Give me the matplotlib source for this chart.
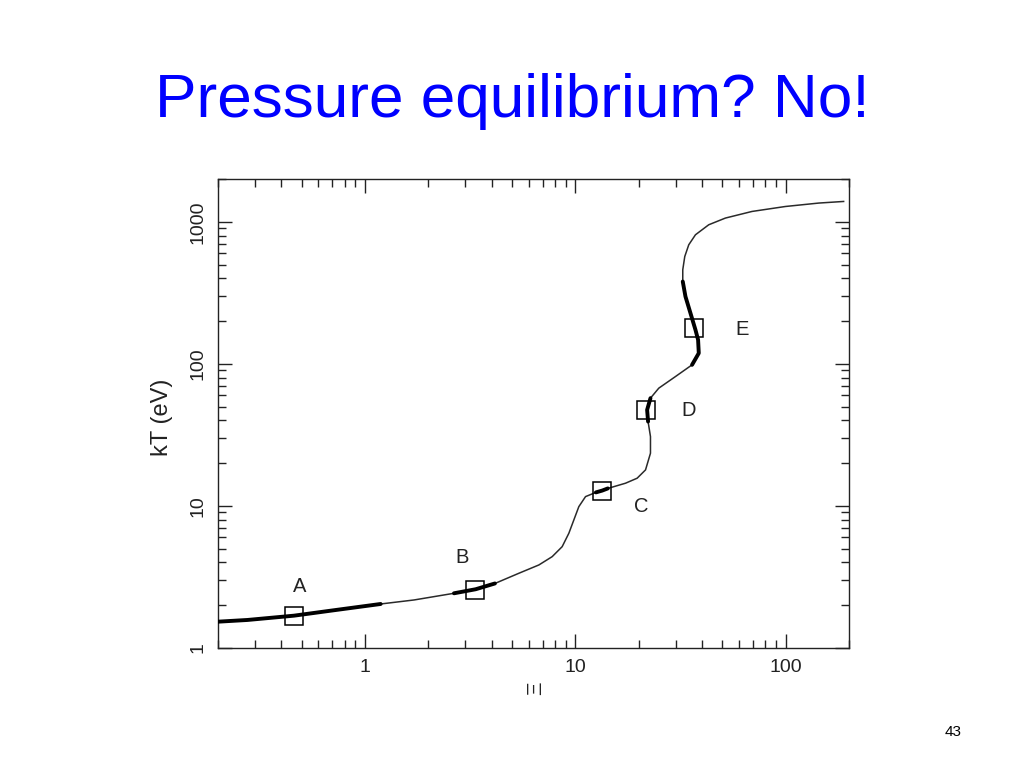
import matplotlib
matplotlib.use("Agg")
import matplotlib.pyplot as plt
from matplotlib.ticker import LogLocator, NullFormatter, FixedLocator, FixedFormatter

plt.rcParams['font.family'] = ['Liberation Sans', 'DejaVu Sans']

# Curve: Xi vs kT (eV)
xi = [0.2, 0.276, 0.460, 0.687, 1.187, 1.710, 2.648, 3.357, 4.146, 5.390,
      6.709, 7.759, 8.657, 9.314, 9.837, 10.39, 11.18, 12.52, 13.41, 14.27,
      17.32, 19.67, 21.56, 22.76, 22.76, 22.17, 21.94, 22.76, 24.93, 29.92,
      35.88, 38.62, 38.33, 37.24, 35.26, 33.38, 32.41, 32.41, 33.13, 34.61,
      37.24, 43.07, 51.70, 69.17, 99.7, 143.5, 188.6]
kT = [1.532, 1.575, 1.689, 1.831, 2.041, 2.178, 2.427, 2.591, 2.846, 3.358,
      3.842, 4.395, 5.168, 6.423, 7.968, 9.888, 11.63, 12.45, 12.82, 13.28,
      14.45, 15.67, 17.93, 23.50, 30.76, 39.25, 47.44, 57.35, 67.44, 81.39,
      98.40, 118.9, 147.6, 173.6, 227.5, 297.8, 379.7, 459.2, 569.7, 688.7,
      809.9, 952.6, 1062, 1182, 1281, 1354, 1390]

# Thick (highlighted) stretches, as [start, end) index ranges into the curve
thick_ranges = [(0, 5), (6, 9), (17, 20), (25, 28), (30, 37)]

# Marked points
pt_labels = ['A', 'B', 'C', 'D', 'E']
pt_xi = [0.46, 3.35, 13.36, 21.6, 36.7]
pt_kT = [1.69, 2.58, 12.8, 47.4, 178]
lbl_offsets = [(4.3, 21), (-9.7, 22.7), (28.6, -11.3), (31, -0.5), (34.8, -0.6)]

fig = plt.figure(figsize=(10.24, 7.68), dpi=100)
fig.patch.set_facecolor('white')
ax = fig.add_axes([218/1024, 1-648/768, (849-218)/1024, (648-179)/768])

ax.plot(xi, kT, color='#2a2a2a', lw=1.1, zorder=2)
for a, b in thick_ranges:
    ax.plot(xi[a:b], kT[a:b], color='black', lw=2.8, solid_capstyle='round', zorder=3)

ax.plot(pt_xi, pt_kT, ls='none', marker='s', ms=12.5, mfc='none', mec='black', mew=1.1, zorder=4)
for lab, x, y, off in zip(pt_labels, pt_xi, pt_kT, lbl_offsets):
    ax.annotate(lab, (x, y), xytext=off, textcoords='offset points',
                ha='center', va='center', fontsize=14.5, color='#222222')

ax.set_xscale('log')
ax.set_yscale('log')
ax.set_xlim(0.2, 200)
ax.set_ylim(1, 2000)

ax.xaxis.set_major_locator(FixedLocator([1, 10, 100]))
ax.xaxis.set_major_formatter(FixedFormatter(['1', '10', '100']))
ax.yaxis.set_major_locator(FixedLocator([1, 10, 100, 1000]))
ax.yaxis.set_major_formatter(FixedFormatter(['1', '10', '100', '1000']))
ax.xaxis.set_minor_locator(LogLocator(base=10, subs=range(2, 10)))
ax.yaxis.set_minor_locator(LogLocator(base=10, subs=range(2, 10)))
ax.xaxis.set_minor_formatter(NullFormatter())
ax.yaxis.set_minor_formatter(NullFormatter())

ax.tick_params(which='both', direction='in', top=True, right=True, colors='#222222',
               labelsize=14, width=1.0)
ax.tick_params(which='major', length=10, pad=8)
ax.tick_params(which='minor', length=6)
for lbl in ax.get_yticklabels():
    lbl.set_rotation(90)
    lbl.set_va('center')
for s in ax.spines.values():
    s.set_color('#222222')
    s.set_linewidth(1.0)

ax.set_ylabel('kT (eV)', fontsize=17, color='#222222', va='center')
ax.yaxis.set_label_coords(-0.0887, 0.4915)
ax.set_xlabel('Ξ', fontsize=15, color='#222222', rotation=90, va='center')
ax.xaxis.set_label_coords(0.504, -0.0853)

fig.text(0.5, 1-102/768, 'Pressure equilibrium? No!', ha='center', va='center',
         fontsize=44.7, color='#0000FF')
fig.text(953/1024, 1-732.5/768, '43', ha='center', va='center', fontsize=11, color='black')

fig.savefig('out.png', dpi=100)
